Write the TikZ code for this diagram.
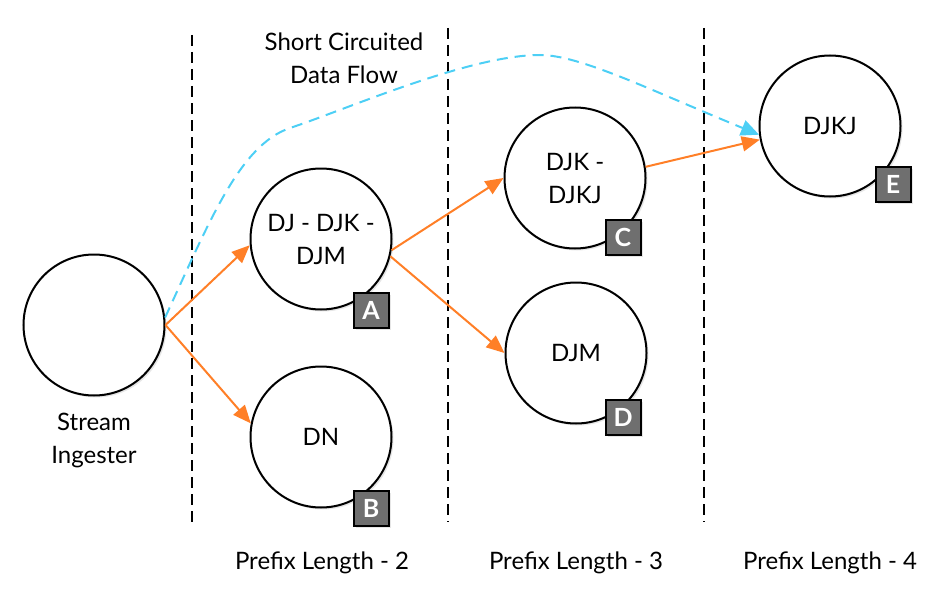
\documentclass[tikz,border=0pt]{standalone}
\usepackage{fontspec}
\setmainfont{Lato}
\usetikzlibrary{arrows.meta,shadows}
\definecolor{arrorange}{HTML}{FF7F27}
\definecolor{flowcyan}{HTML}{4DCFF5}
\definecolor{badgegray}{HTML}{6F6F6F}
\begin{document}
\begin{tikzpicture}[x=1pt,y=-1pt,
  every node/.style={font=\fontsize{24}{33}\selectfont},
  proc/.style={circle, draw=black, line width=2pt, fill=white, minimum size=141pt, inner sep=0pt, align=center,
    drop shadow={shadow xshift=2pt, shadow yshift=-2pt, opacity=0.2}},
  badge/.style={rectangle, draw=black, line width=2pt, fill=badgegray, minimum size=35pt, inner sep=0pt,
    text=white, font=\fontsize{25}{25}\selectfont\bfseries,
    drop shadow={shadow xshift=2pt, shadow yshift=-2pt, opacity=0.2}},
  flow/.style={draw=arrorange, line width=2pt, -{Triangle[length=18pt,width=15pt]}},
  shortcut/.style={draw=flowcyan, line width=2pt, dash pattern=on 11pt off 7pt, -{Triangle[length=18pt,width=16pt]}},
  divider/.style={draw=black, line width=2.2pt, dash pattern=on 11pt off 6pt},
  caption/.style={align=center}]
\useasboundingbox (0,0) rectangle (940,602);

% dividers
\coordinate (d1t) at (192,35);  \coordinate (d1b) at (192,528);
\coordinate (d2t) at (448,28);  \coordinate (d2b) at (448,522);
\coordinate (d3t) at (704,28);  \coordinate (d3b) at (704,522);
\draw[divider] (d1t) -- (d1b);
\draw[divider] (d2t) -- (d2b);
\draw[divider] (d3t) -- (d3b);

% nodes
\node[proc] (ing) at (94,325) {};
\node[proc] (a) at (321,239) {DJ - DJK -\\DJM};
\node[proc] (b) at (321,437) {DN};
\node[proc] (c) at (575,178) {DJK -\\DJKJ};
\node[proc] (d) at (576,353) {DJM};
\node[proc] (e) at (830,126) {DJKJ};

\node[badge] (ba) at (371,310) {A};
\node[badge] (bb) at (371,508) {B};
\node[badge] (bc) at (623,237) {C};
\node[badge] (bd) at (623,417) {D};
\node[badge] (be) at (893,184) {E};

% captions
\node[caption] (ingcap) at (94,440) {Stream\\Ingester};
\node[caption] (sccap) at (344,58) {Short Circuited\\Data Flow};
\node[caption] (p2) at (322,563) {Prefix Length - 2};
\node[caption] (p3) at (576,563) {Prefix Length - 3};
\node[caption] (p4) at (830,563) {Prefix Length - 4};

% connectors
\draw[flow] (ing.east) -- (a.185);
\draw[flow] (ing.east) -- (b.169);
\draw[flow] (a.-9) -- (c.180);
\draw[flow] (a.-14) -- (d.180);
\draw[flow] (c.9) -- (e.191);
\draw[shortcut] (ing.6) .. controls (210,220) and (240,145) .. (290,128)
  .. controls (350,108) and (470,55) .. (540,55)
  .. controls (580,55) and (650,90) .. (e.187);
\end{tikzpicture}
\end{document}
